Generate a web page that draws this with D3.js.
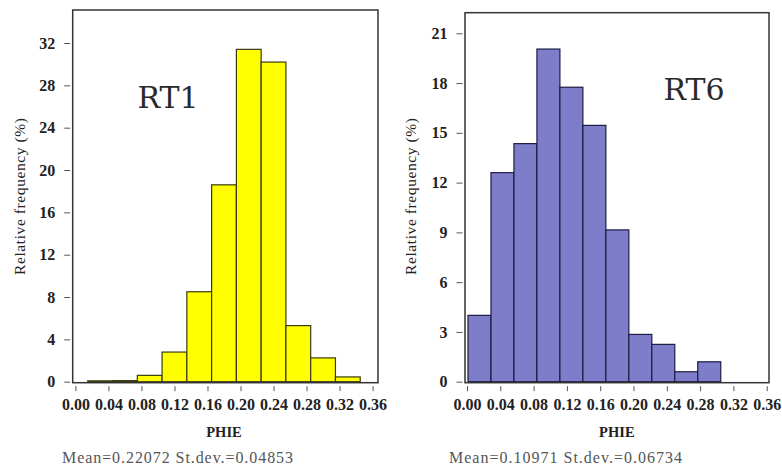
<!DOCTYPE html>
<html>
<head>
<meta charset="utf-8">
<script src="https://cdn.jsdelivr.net/npm/d3@7"></script>
<style>
  html, body { margin: 0; padding: 0; background: #fff; }
  svg text { font-family: "Liberation Serif", "DejaVu Serif", serif; }
</style>
</head>
<body>
<svg id="chart" width="782" height="474"></svg>
<script>
// bin setup (PHIE) and relative frequency (%) per bin
const rt1Start = 0.015
const rt1Width = 0.03
const rt1Freq = [0.08, 0.1, 0.6, 2.8, 8.5, 18.6, 31.4, 30.2, 5.3, 2.25, 0.45]

const rt6Start = 0.0012
const rt6Width = 0.0276
const rt6Freq = [4.0, 12.6, 14.35, 20.05, 17.75, 15.45, 9.15, 2.85, 2.25, 0.6, 1.2]

const xTicks = [0, 0.04, 0.08, 0.12, 0.16, 0.2, 0.24, 0.28, 0.32, 0.36]
const rt1Ticks = [0, 4, 8, 12, 16, 20, 24, 28, 32]
const rt6Ticks = [0, 3, 6, 9, 12, 15, 18, 21]

const panels = [
  {
    name: 'RT1', start: rt1Start, width: rt1Width, freq: rt1Freq, yTicks: rt1Ticks,
    yTop: 32, xRange: [75.4, 372.6], yRange: [381.7, 43], frame: [72.7, 10, 378, 382.7],
    fill: '#ffff00', stroke: '#3a3a10', stats: 'Mean=0.22072 St.dev.=0.04853',
    statsX: 62, statsLen: 231, labelX: 168, labelY: 108, yLabelX: 25,
  },
  {
    name: 'RT6', start: rt6Start, width: rt6Width, freq: rt6Freq, yTicks: rt6Ticks,
    yTop: 21, xRange: [467, 766.7], yRange: [381.7, 33.3], frame: [465, 12.7, 769, 382.7],
    fill: '#7d7dc9', stroke: '#1c1c44', stats: 'Mean=0.10971 St.dev.=0.06734',
    statsX: 449, statsLen: 233, labelX: 694, labelY: 100, yLabelX: 416,
  },
]

const svg = d3.select('#chart')

panels.forEach((p) => {
  const g = svg.append('g')
  const x = d3.scaleLinear().domain([0, 0.36]).range(p.xRange)
  const y = d3.scaleLinear().domain([0, p.yTop]).range(p.yRange)
  const [fx0, fy0, fx1, fy1] = p.frame

  const bins = p.freq.map((v, i) => ({
    x0: p.start + i * p.width,
    x1: p.start + (i + 1) * p.width,
    value: v,
  }))

  g.selectAll('.bar')
    .data(bins)
    .join('rect')
    .attr('class', 'bar')
    .attr('x', (d) => x(d.x0))
    .attr('width', (d) => x(d.x1) - x(d.x0))
    .attr('y', (d) => y(d.value))
    .attr('height', (d) => y(0) - y(d.value))
    .attr('fill', p.fill)
    .attr('stroke', p.stroke)
    .attr('stroke-width', 1.2)

  // plot frame
  g.append('rect')
    .attr('x', fx0)
    .attr('y', fy0)
    .attr('width', fx1 - fx0)
    .attr('height', fy1 - fy0)
    .attr('fill', 'none')
    .attr('stroke', '#333')
    .attr('stroke-width', 1.5)

  // axes sit just outside the frame
  const xAxis = g.append('g')
    .attr('transform', `translate(0,${fy1 + 3.5})`)
    .call(d3.axisBottom(x).tickValues(xTicks).tickFormat(d3.format('.2f')).tickSize(5).tickPadding(7))
  const yAxis = g.append('g')
    .attr('transform', `translate(${fx0 - 2.5},0)`)
    .call(d3.axisLeft(y).tickValues(p.yTicks).tickSize(6).tickPadding(9))

  ;[xAxis, yAxis].forEach((a) => {
    a.select('.domain').remove()
    a.selectAll('line').attr('stroke', '#555').attr('stroke-width', 1)
    a.selectAll('text')
      .attr('fill', '#222')
      .style('font-size', '16px')
      .style('font-weight', 'bold')
  })

  g.append('text')
    .attr('x', (p.xRange[0] + p.xRange[1]) / 2)
    .attr('y', 437)
    .attr('text-anchor', 'middle')
    .attr('fill', '#222')
    .style('font-size', '14.5px')
    .style('font-weight', 'bold')
    .text('PHIE')

  g.append('text')
    .attr('transform', `translate(${p.yLabelX},196.5) rotate(-90)`)
    .attr('text-anchor', 'middle')
    .attr('fill', '#222')
    .attr('textLength', 157)
    .style('font-size', '15.5px')
    .text('Relative frequency (%)')

  g.append('text')
    .attr('x', p.statsX)
    .attr('y', 463)
    .attr('fill', '#555')
    .attr('textLength', p.statsLen)
    .style('font-size', '16px')
    .text(p.stats)

  g.append('text')
    .attr('x', p.labelX)
    .attr('y', p.labelY)
    .attr('text-anchor', 'middle')
    .attr('fill', '#2a2a2a')
    .attr('textLength', 61)
    .style('font-family', '"DejaVu Serif", serif')
    .style('font-size', '30px')
    .text(p.name)
})
</script>
</body>
</html>
